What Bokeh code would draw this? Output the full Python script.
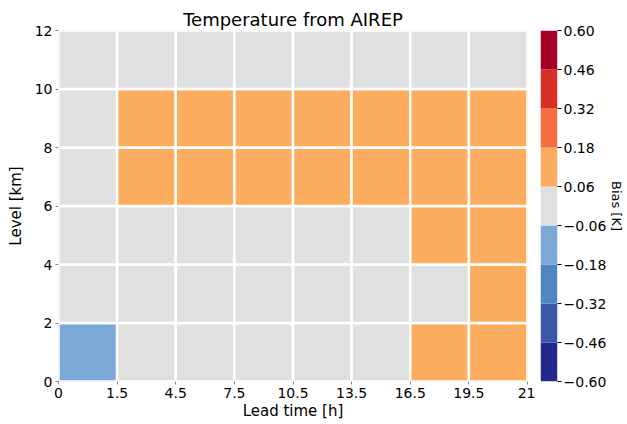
from bokeh.plotting import figure
from bokeh.layouts import row
from bokeh.models import FixedTicker, ColumnDataSource, Range1d
from bokeh.embed import file_html
from bokeh.resources import INLINE

# ---- data ----
# lead-time bin edges (drawn as equally wide columns, as in the original)
x_edges = [0, 1.5, 4.5, 7.5, 10.5, 13.5, 16.5, 19.5, 21]
x_tick_labels = ["0", "1.5", "4.5", "7.5", "10.5", "13.5", "16.5", "19.5", "21"]
y_edges = [0, 2, 4, 6, 8, 10, 12]
y_ticks = [0, 2, 4, 6, 8, 10, 12]
# bias per cell, rows from bottom (0-2 km) to top (10-12 km)
bias_rows = [
    [-0.10, 0.00, 0.00, 0.00, 0.00, 0.00, 0.10, 0.10],
    [0.00, 0.00, 0.00, 0.00, 0.00, 0.00, 0.00, 0.10],
    [0.00, 0.00, 0.00, 0.00, 0.00, 0.00, 0.10, 0.10],
    [0.00, 0.10, 0.10, 0.10, 0.10, 0.10, 0.10, 0.10],
    [0.00, 0.10, 0.10, 0.10, 0.10, 0.10, 0.10, 0.10],
    [0.00, 0.00, 0.00, 0.00, 0.00, 0.00, 0.00, 0.00],
]
levels = [-0.60, -0.46, -0.32, -0.18, -0.06, 0.06, 0.18, 0.32, 0.46, 0.60]
level_labels = ["\u22120.60", "\u22120.46", "\u22120.32", "\u22120.18", "\u22120.06",
                "0.06", "0.18", "0.32", "0.46", "0.60"]
colors = ["#25288b", "#3a58a6", "#5186c3", "#7ba8d6", "#e0e0e0",
          "#fcad60", "#f46d43", "#d73027", "#a50026"]

FONT = "DejaVu Sans"


def color_for(v):
    for i in range(len(levels) - 1):
        if levels[i] <= v < levels[i + 1]:
            return colors[i]
    return colors[-1] if v >= levels[-1] else colors[0]


nx = len(x_edges) - 1
left, right, bottom, top, fill = [], [], [], [], []
for j, r in enumerate(bias_rows):
    for i, v in enumerate(r):
        left.append(i); right.append(i + 1)
        bottom.append(y_edges[j]); top.append(y_edges[j + 1])
        fill.append(color_for(v))
src = ColumnDataSource(dict(left=left, right=right, bottom=bottom, top=top, fill=fill))

p = figure(width=535, height=424, output_backend="svg", toolbar_location=None,
           x_range=Range1d(0, nx), y_range=Range1d(y_edges[0], y_edges[-1]),
           min_border_left=58, min_border_right=8, min_border_top=30, min_border_bottom=43,
           title="Temperature from AIREP")
p.quad(left="left", right="right", bottom="bottom", top="top", fill_color="fill",
       line_color="white", line_width=2.5, source=src)
p.grid.visible = False
p.outline_line_color = None
p.background_fill_color = "white"
p.title.text_font = FONT
p.title.text_font_size = "18px"
p.title.text_font_style = "normal"
p.title.text_color = "black"
p.title.align = "center"
p.title.standoff = 2

p.xaxis.ticker = FixedTicker(ticks=list(range(nx + 1)))
p.xaxis.major_label_overrides = {i: lab for i, lab in enumerate(x_tick_labels)}
p.yaxis.ticker = FixedTicker(ticks=y_ticks)
p.yaxis.major_label_overrides = {y: str(y) for y in y_ticks}
p.xaxis.axis_label = "Lead time [h]"
p.yaxis.axis_label = "Level [km]"
for ax in (p.xaxis, p.yaxis):
    ax.axis_line_color = None
    ax.major_tick_out = 3
    ax.major_tick_in = 0
    ax.minor_tick_line_color = None
    ax.major_tick_line_color = "#888888"
    ax.major_label_text_font = FONT
    ax.major_label_text_font_size = "14px"
    ax.major_label_text_color = "black"
    ax.axis_label_text_font = FONT
    ax.axis_label_text_font_size = "15px"
    ax.axis_label_text_font_style = "normal"
    ax.axis_label_text_color = "black"
    ax.major_label_standoff = 3
p.xaxis.axis_label_standoff = 1
p.yaxis.axis_label_standoff = 7

# ---- colorbar ----
nb = len(colors)
cb_src = ColumnDataSource(dict(bottom=list(range(nb)), top=list(range(1, nb + 1)), fill=colors))
cb = figure(width=92, height=424, output_backend="svg", toolbar_location=None,
            x_range=Range1d(0, 1), y_range=Range1d(0, nb), x_axis_type=None,
            y_axis_location="right",
            min_border_left=5, min_border_right=64, min_border_top=30, min_border_bottom=43)
cb.quad(left=0, right=1, bottom="bottom", top="top", fill_color="fill", line_color=None, source=cb_src)
cb.grid.visible = False
cb.outline_line_color = None
ya = cb.yaxis[0]
ya.ticker = FixedTicker(ticks=list(range(nb + 1)))
ya.major_label_overrides = {i: lab for i, lab in enumerate(level_labels)}
ya.axis_line_color = None
ya.major_tick_out = 4
ya.major_tick_in = 0
ya.minor_tick_line_color = None
ya.major_tick_line_color = "black"
ya.major_label_text_font = FONT
ya.major_label_text_font_size = "14px"
ya.major_label_text_color = "black"
ya.major_label_standoff = 2
ya.axis_label = "Bias [K]"
ya.axis_label_text_font = FONT
ya.axis_label_text_font_size = "13px"
ya.axis_label_text_font_style = "normal"
ya.axis_label_text_color = "black"
ya.axis_label_standoff = 0

layout = row(p, cb, spacing=0)
open("out.html", "w").write(file_html(layout, INLINE))
